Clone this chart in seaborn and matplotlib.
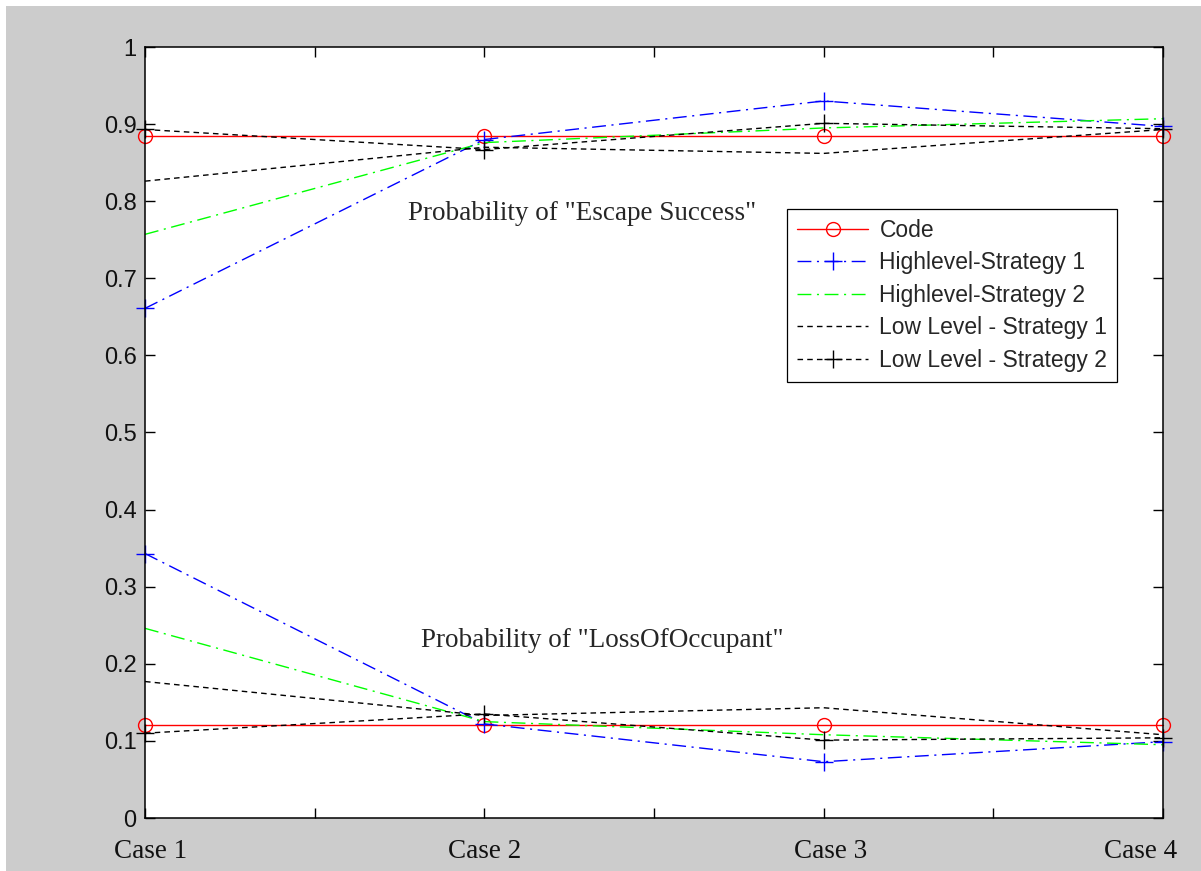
import numpy as np
import pandas as pd
import seaborn as sns
import matplotlib.pyplot as plt
from matplotlib.patches import Rectangle
from matplotlib.transforms import ScaledTranslation

# cases on the x axis
cases = ["Case 1", "Case 2", "Case 3", "Case 4"]
case_pos = [1, 2, 3, 4]

# probabilities (upper group = escape success, lower = loss of occupant)
escape_code = [0.884, 0.884, 0.884, 0.884]
loss_code = [0.120, 0.120, 0.120, 0.120]
escape_hs1 = [0.661, 0.880, 0.930, 0.897]
loss_hs1 = [0.343, 0.122, 0.073, 0.099]
escape_hs2 = [0.757, 0.876, 0.895, 0.907]
loss_hs2 = [0.246, 0.125, 0.108, 0.095]
escape_ll1 = [0.826, 0.870, 0.862, 0.893]
loss_ll1 = [0.177, 0.133, 0.143, 0.108]
escape_ll2 = [0.893, 0.867, 0.901, 0.894]
loss_ll2 = [0.110, 0.135, 0.101, 0.104]

names = ["Code", "Highlevel-Strategy 1", "Highlevel-Strategy 2",
         "Low Level - Strategy 1", "Low Level - Strategy 2"]
series = {
    "Code": (escape_code, loss_code),
    "Highlevel-Strategy 1": (escape_hs1, loss_hs1),
    "Highlevel-Strategy 2": (escape_hs2, loss_hs2),
    "Low Level - Strategy 1": (escape_ll1, loss_ll1),
    "Low Level - Strategy 2": (escape_ll2, loss_ll2),
}

yticks = [0, 0.1, 0.2, 0.3, 0.4, 0.5, 0.6, 0.7, 0.8, 0.9, 1]
ytick_labels = ["0", "0.1", "0.2", "0.3", "0.4", "0.5", "0.6", "0.7", "0.8", "0.9", "1"]

# matlab-like styles
styles = {
    "Code": dict(color="#ff0000", marker="o", markersize=10, linestyle="-"),
    "Highlevel-Strategy 1": dict(color="#0000ff", marker="+", markersize=13,
                                 linestyle=(0, (10, 4, 1.5, 4))),
    "Highlevel-Strategy 2": dict(color="#00ff00", marker=None,
                                 linestyle=(0, (10, 4, 1.5, 4))),
    "Low Level - Strategy 1": dict(color="#000000", marker=None,
                                   linestyle=(0, (4, 3))),
    "Low Level - Strategy 2": dict(color="#000000", marker="+", markersize=13,
                                   linestyle=(0, (4, 3))),
}

sns.set_theme(style="ticks")
plt.rcParams["font.family"] = ["Liberation Sans", "DejaVu Sans"]

fig = plt.figure(figsize=(12.01, 8.71), dpi=100)
fig.patch.set_facecolor("white")
fig.add_artist(Rectangle((6 / 1201, 0), 1, 1 - 6 / 871, transform=fig.transFigure,
                         facecolor="#cccccc", edgecolor="none", zorder=-10))

ax = fig.add_axes([145 / 1201, 53 / 871, 1018 / 1201, 771 / 871])
ax.set_facecolor("white")

handles = []
for name in names:
    st = styles[name]
    for k, vals in enumerate(series[name]):
        sns.lineplot(x=case_pos, y=vals, ax=ax, legend=False,
                     color=st["color"], linestyle=st["linestyle"],
                     marker=st["marker"], markersize=st.get("markersize", 8),
                     markeredgecolor=st["color"], markerfacecolor="none",
                     markeredgewidth=1.0, linewidth=1.0, clip_on=False)
        if k == 0:
            handles.append(ax.lines[-1])

ax.text(1.774, 0.776, 'Probability of "Escape Success"', fontsize=19.5,
        family="Liberation Serif", va="baseline", ha="left")
ax.text(1.812, 0.222, 'Probability of "LossOfOccupant"', fontsize=19.5,
        family="Liberation Serif", va="baseline", ha="left")

ax.set_xlim(1, 4)
ax.set_ylim(0, 1)
xt = [1, 1.5, 2, 2.5, 3, 3.5, 4]
ax.set_xticks(xt)
ax.set_xticklabels(["Case 1", "", "Case 2", "", "Case 3", "", "Case 4"],
                   family="Liberation Serif", fontsize=19.5)
ax.set_yticks(yticks)
ax.set_yticklabels(ytick_labels, fontsize=17)
ax.tick_params(direction="in", length=7, width=1.0, color="black",
               top=True, right=True, labelcolor="#111111")
ax.tick_params(axis="x", pad=15)
ax.tick_params(axis="y", pad=6)

# matlab nudges the edge labels so they stay inside the figure
shifts = [6, 0, 0, 0, 7, 0, -22]
for lab, dx in zip(ax.get_xticklabels(), shifts):
    lab.set_transform(lab.get_transform() + ScaledTranslation(dx / 100, 0, fig.dpi_scale_trans))

for sp in ax.spines.values():
    sp.set_visible(True)
    sp.set_color("black")
    sp.set_linewidth(1.1)
ax.set_xlabel("")
ax.set_ylabel("")

leg = ax.legend(handles, names, loc="upper left", bbox_to_anchor=(0.631, 0.790),
                frameon=True, fancybox=False, framealpha=1, edgecolor="black",
                prop={"family": "Liberation Sans", "size": 16.5}, numpoints=1,
                handlelength=3.1, handletextpad=0.5, labelspacing=0.42,
                borderpad=0.42, borderaxespad=0)
leg.get_frame().set_linewidth(0.9)

fig.savefig("out.png", dpi=100, facecolor=fig.get_facecolor())
